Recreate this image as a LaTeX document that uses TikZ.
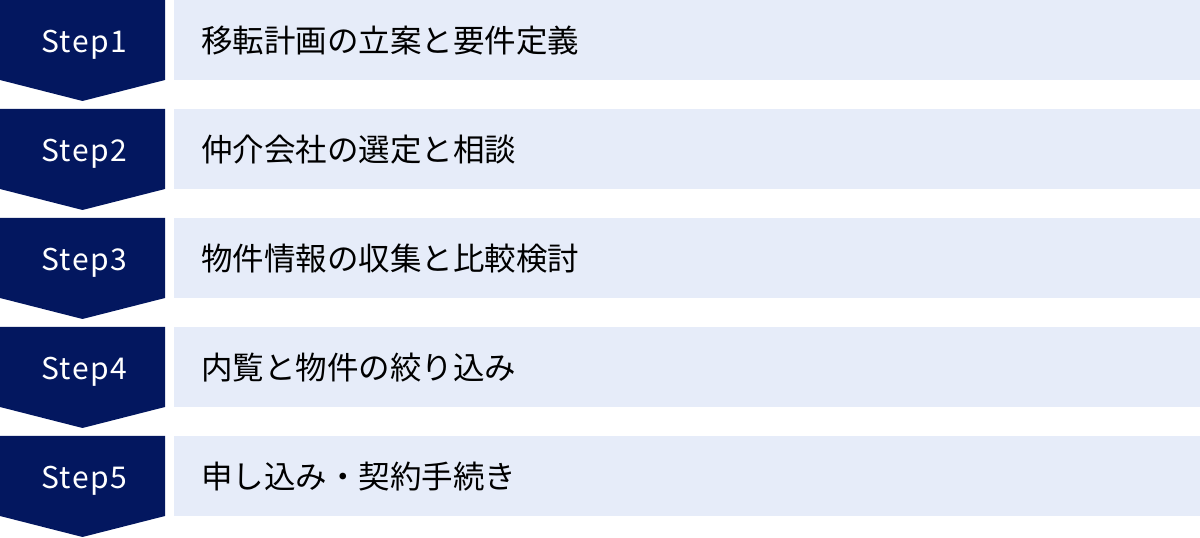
\documentclass[tikz,border=0pt]{standalone}
\usepackage{fontspec}
\setmainfont{Noto Sans CJK JP}
\usepackage{tikz}
\definecolor{stepnavy}{HTML}{03175F}
\definecolor{tasklight}{HTML}{E6ECF9}
\tikzset{
	steplabel/.style={text=white, anchor=base, font=\fontsize{30}{36}\selectfont\addfontfeature{LetterSpace=5}},
	tasklabel/.style={text=black, anchor=base west, inner sep=0pt, font=\fontsize{31.5}{36}\selectfont}
}

\begin{document}
\begin{tikzpicture}[x=1pt, y=1pt]
		%%%%% START %%%%%
		\useasboundingbox (0, 0) rectangle (1200, 538);
		
		\fill[stepnavy] (0, 538) -- (165, 538) -- (165, 458) -- (82.5, 437) -- (0, 458) -- cycle;
		\fill[tasklight] (174, 458) rectangle (1200, 538);
		\node[steplabel] (step1) at (84, 485.5) {Step1};
		\node[tasklabel] (task1) at (201, 485) {移転計画の立案と要件定義};
		
		\fill[stepnavy] (0, 429) -- (165, 429) -- (165, 349) -- (82.5, 328) -- (0, 349) -- cycle;
		\fill[tasklight] (174, 349) rectangle (1200, 429);
		\node[steplabel] (step2) at (84, 376.5) {Step2};
		\node[tasklabel] (task2) at (201, 376) {仲介会社の選定と相談};
		
		\fill[stepnavy] (0, 320) -- (165, 320) -- (165, 240) -- (82.5, 219) -- (0, 240) -- cycle;
		\fill[tasklight] (174, 240) rectangle (1200, 320);
		\node[steplabel] (step3) at (84, 267.5) {Step3};
		\node[tasklabel] (task3) at (201, 267) {物件情報の収集と比較検討};
		
		\fill[stepnavy] (0, 211) -- (165, 211) -- (165, 131) -- (82.5, 110) -- (0, 131) -- cycle;
		\fill[tasklight] (174, 131) rectangle (1200, 211);
		\node[steplabel] (step4) at (84, 158.5) {Step4};
		\node[tasklabel] (task4) at (201, 158) {内覧と物件の絞り込み};
		
		\fill[stepnavy] (0, 102) -- (165, 102) -- (165, 22) -- (82.5, 1) -- (0, 22) -- cycle;
		\fill[tasklight] (174, 22) rectangle (1200, 102);
		\node[steplabel] (step5) at (84, 49.5) {Step5};
		\node[tasklabel] (task5) at (201, 49) {申し込み・契約手続き};
		%%%%% END %%%%%
	\end{tikzpicture}
\end{document}
